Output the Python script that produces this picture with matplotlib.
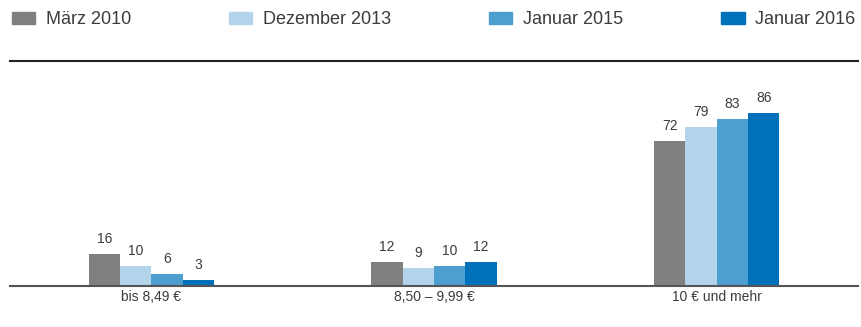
import numpy as np
import matplotlib.pyplot as plt
from matplotlib.patches import Patch

plt.rcParams['font.family'] = ['Liberation Sans', 'DejaVu Sans']

categories = ['bis 8,49 €', '8,50 – 9,99 €', '10 € und mehr']
series = ['März 2010', 'Dezember 2013', 'Januar 2015', 'Januar 2016']
values = [
    [16, 12, 72],
    [10, 9, 79],
    [6, 10, 83],
    [3, 12, 86],
]
colors = ['#808080', '#b3d5ec', '#4d9fd0', '#0070ba']
txt = '#3c3c3c'

fig = plt.figure(figsize=(8.62, 3.27), dpi=100)
# axes: x 10..858 px, y 61..286 px (from top)
ax = fig.add_axes([10/862, (327-286)/327, 848/862, 225/327])

x = np.arange(len(categories))
w = 0.111
for i, (name, vals) in enumerate(zip(series, values)):
    bars = ax.bar(x + (i - 1.5) * w, vals, w, color=colors[i], label=name)
    ax.bar_label(bars, padding=6, fontsize=10, color=txt)

ax.set_xlim(-0.5, 2.5)
ax.set_ylim(0, 112)
ax.set_yticks([])
ax.set_xticks(x)
ax.set_xticklabels(categories, fontsize=10, color=txt)
ax.tick_params(axis='x', length=0, pad=3)
for s in ['left', 'right']:
    ax.spines[s].set_visible(False)
ax.spines['bottom'].set_color('#555555')
ax.spines['bottom'].set_linewidth(1.5)
ax.spines['top'].set_color('#222222')
ax.spines['top'].set_linewidth(1.5)

handles = [Patch(color=c) for c in colors]
fig.legend(handles, series, loc='upper left', bbox_to_anchor=(12/862, 1 - 11/327),
           ncol=4, frameon=False, fontsize=13, borderpad=0, borderaxespad=0,
           handlelength=1.28, handleheight=0.67, handletextpad=0.6,
           columnspacing=5.43, labelcolor=txt)

fig.savefig('out.png', dpi=100)
